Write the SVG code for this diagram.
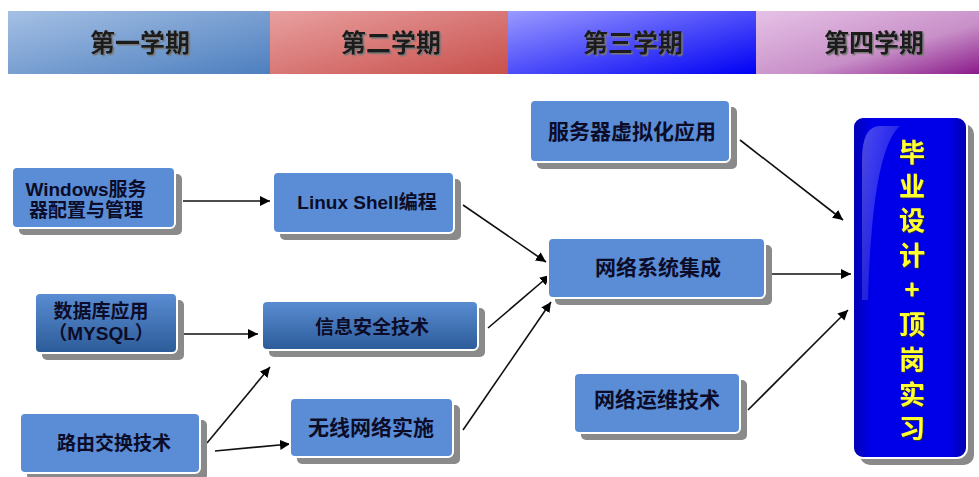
<svg xmlns="http://www.w3.org/2000/svg" width="979" height="477" viewBox="0 0 979 477">
<defs>
<linearGradient id="h1" x1="0" y1="0" x2="1" y2="1"><stop offset="0" stop-color="#a5c0e4"/><stop offset="1" stop-color="#4d7fbf"/></linearGradient>
<linearGradient id="h2" x1="0" y1="0" x2="1" y2="1"><stop offset="0" stop-color="#e8a0a0"/><stop offset="1" stop-color="#c8504c"/></linearGradient>
<linearGradient id="h3" x1="0" y1="0" x2="1" y2="1"><stop offset="0" stop-color="#9a9aff"/><stop offset="1" stop-color="#0000f5"/></linearGradient>
<linearGradient id="h4" x1="0" y1="0" x2="1" y2="1"><stop offset="0" stop-color="#e6c2e6"/><stop offset="0.6" stop-color="#c890c8"/><stop offset="1" stop-color="#8a1a8a"/></linearGradient>
<linearGradient id="dark" x1="0" y1="0" x2="0" y2="1"><stop offset="0" stop-color="#5a8dd3"/><stop offset="1" stop-color="#2c5b98"/></linearGradient>
<linearGradient id="fin" x1="0" y1="0" x2="1" y2="0"><stop offset="0" stop-color="#0000b0"/><stop offset="0.15" stop-color="#0000e8"/><stop offset="0.85" stop-color="#0000e8"/><stop offset="1" stop-color="#0000a8"/></linearGradient>
<linearGradient id="gloss" x1="0" y1="0" x2="1" y2="1"><stop offset="0" stop-color="#ffffff" stop-opacity="0.3"/><stop offset="1" stop-color="#ffffff" stop-opacity="0"/></linearGradient>
<filter id="ts" x="-10%" y="-20%" width="130%" height="150%"><feDropShadow dx="1.5" dy="1.5" stdDeviation="0.6" flood-color="#777"/></filter>
<filter id="ys" x="-20%" y="-20%" width="140%" height="140%"><feDropShadow dx="1" dy="1" stdDeviation="0.5" flood-color="#333"/></filter>
<marker id="ah" viewBox="0 0 10 10" refX="10" refY="5" markerWidth="10" markerHeight="10" markerUnits="userSpaceOnUse" orient="auto"><path d="M0,0 L10,5 L0,10 Z" fill="#000"/></marker>
</defs>
<style>
.hd{font-family:"Liberation Serif","Noto Sans CJK SC",serif;font-weight:bold;font-size:25px;fill:#1a1a1a;text-anchor:middle;}
.sh{fill:#8a8a8a;}
.bx{fill:#5a8dd6;stroke:#ffffff;stroke-width:2;}
.bd{fill:url(#dark);stroke:#ffffff;stroke-width:2;}
.t{font-family:"Liberation Sans","Noto Sans CJK SC",sans-serif;font-weight:bold;font-size:19px;fill:#0c0c28;text-anchor:middle;}
.ft{font-family:"Noto Sans CJK SC",sans-serif;font-weight:bold;font-size:26px;fill:#ffff30;text-anchor:middle;}
.cn{stroke:#111;stroke-width:1.6;fill:none;marker-end:url(#ah);}
</style>
<rect width="979" height="477" fill="#ffffff"/>
<g id="header">
<rect x="8" y="11" width="262" height="63" fill="url(#h1)"/>
<rect x="270" y="11" width="238" height="63" fill="url(#h2)"/>
<rect x="508" y="11" width="248" height="63" fill="url(#h3)"/>
<rect x="756" y="11" width="223" height="63" fill="url(#h4)"/>
<g filter="url(#ts)">
<text class="hd" x="140" y="52">第一学期</text>
<text class="hd" x="391" y="52">第二学期</text>
<text class="hd" x="633" y="52">第三学期</text>
<text class="hd" x="874" y="52">第四学期</text>
</g>
</g>
<g id="connectors">
<line class="cn" x1="183" y1="201" x2="270" y2="201"/>
<line class="cn" x1="182" y1="334" x2="258" y2="334"/>
<line class="cn" x1="207" y1="443" x2="270" y2="367"/>
<line class="cn" x1="215" y1="451" x2="290" y2="444"/>
<line class="cn" x1="463" y1="205" x2="546" y2="262"/>
<line class="cn" x1="488" y1="328" x2="550" y2="275"/>
<line class="cn" x1="463" y1="430" x2="551" y2="302"/>
<line class="cn" x1="740" y1="140" x2="843" y2="220"/>
<line class="cn" x1="770" y1="274" x2="851" y2="274"/>
<line class="cn" x1="748" y1="410" x2="848" y2="310"/>
</g>
<g id="n_windows">
<rect class="sh" x="19" y="174" width="163" height="61" rx="5"/>
<rect class="bx" x="12" y="167" width="163" height="61" rx="5"/>
<text class="t" x="86" y="196">Windows服务</text>
<text class="t" x="86" y="217">器配置与管理</text>
</g>
<g id="n_mysql">
<rect class="sh" x="42" y="300" width="142" height="60" rx="5"/>
<rect class="bd" x="35" y="293" width="142" height="60" rx="5"/>
<text class="t" x="101" y="318">数据库应用</text>
<text class="t" x="101" y="340">（MYSQL）</text>
</g>
<g id="n_route">
<rect class="sh" x="27" y="420" width="180" height="60" rx="5"/>
<rect class="bx" x="20" y="413" width="180" height="60" rx="5"/>
<text class="t" x="114" y="450">路由交换技术</text>
</g>
<g id="n_linux">
<rect class="sh" x="280" y="179" width="181" height="61" rx="5"/>
<rect class="bx" x="273" y="172" width="181" height="61" rx="5"/>
<text class="t" x="367" y="209">Linux Shell编程</text>
</g>
<g id="n_security">
<rect class="sh" x="269" y="308" width="216" height="49" rx="5"/>
<rect class="bd" x="262" y="301" width="216" height="49" rx="5"/>
<text class="t" x="372" y="334">信息安全技术</text>
</g>
<g id="n_wireless">
<rect class="sh" x="297" y="405" width="163" height="59" rx="5"/>
<rect class="bx" x="290" y="398" width="163" height="59" rx="5"/>
<text class="t" x="371" y="435" style="font-size:21px">无线网络实施</text>
</g>
<g id="n_virt">
<rect class="sh" x="537" y="107" width="200" height="62" rx="5"/>
<rect class="bx" x="530" y="100" width="200" height="62" rx="5"/>
<text class="t" x="632" y="139" style="font-size:21px">服务器虚拟化应用</text>
</g>
<g id="n_integ">
<rect class="sh" x="555" y="245" width="217" height="60" rx="5"/>
<rect class="bx" x="548" y="238" width="217" height="60" rx="5"/>
<text class="t" x="658" y="275" style="font-size:21px">网络系统集成</text>
</g>
<g id="n_ops">
<rect class="sh" x="581" y="380" width="166" height="60" rx="5"/>
<rect class="bx" x="574" y="373" width="166" height="60" rx="5"/>
<text class="t" x="657" y="407" style="font-size:21px">网络运维技术</text>
</g>
<g id="n_final">
<rect class="sh" x="860" y="124" width="114" height="341" rx="10"/>
<rect x="853" y="117" width="114" height="341" rx="10" fill="url(#fin)" stroke="#ffffff" stroke-width="2"/>
<path d="M862,160 Q862,126 880,126 L900,126 Q872,150 868,300 L862,300 Z" fill="url(#gloss)"/>
<g filter="url(#ys)">
<text class="ft" x="912" y="162">毕</text>
<text class="ft" x="912" y="196">业</text>
<text class="ft" x="912" y="230">设</text>
<text class="ft" x="912" y="265">计</text>
<text class="ft" x="912" y="299">+</text>
<text class="ft" x="912" y="334">顶</text>
<text class="ft" x="912" y="369">岗</text>
<text class="ft" x="912" y="404">实</text>
<text class="ft" x="912" y="438">习</text>
</g>
</g>
</svg>
